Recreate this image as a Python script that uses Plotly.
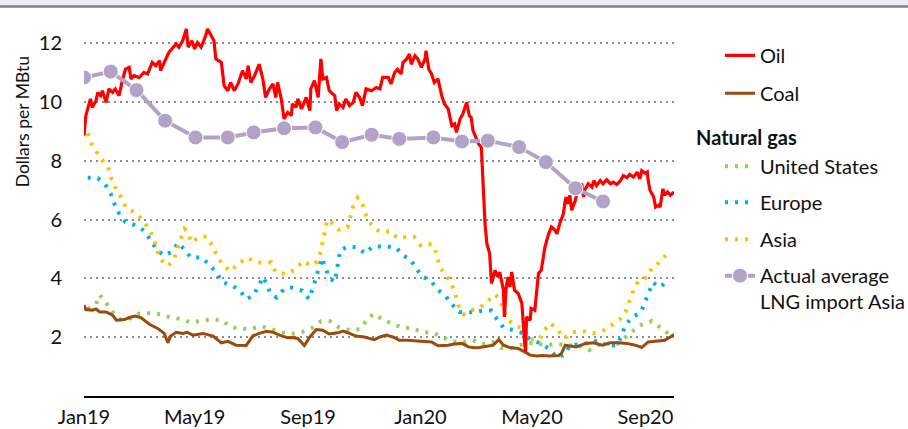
import pandas as pd
import plotly.graph_objects as go

START = pd.Timestamp("2019-01-01")

# days counted from 1 Jan 2019, values in dollars per MBtu
oil_days = [0, 1, 2, 5, 7, 9, 13, 15, 18, 20, 24, 27, 31, 34, 38, 42, 45, 49, 51, 54,
            60, 65, 69, 74, 78, 82, 83, 87, 92, 100, 103, 107, 111, 113, 117, 120, 123, 127,
            132, 134, 138, 141, 143, 149, 152, 156, 159, 163, 167, 172, 176, 178, 181, 185,
            190, 194, 197, 201, 205, 208, 210, 214, 217, 221, 225, 226, 230, 232, 236, 241,
            245, 246, 250, 254, 257, 259, 263, 266, 272, 274, 277, 281, 284, 288, 292, 295,
            299, 302, 306, 312, 317, 321, 324, 330, 333, 337, 340, 344, 346, 350, 353, 355,
            359, 362, 366, 370, 371, 374, 377, 380, 384, 388, 391, 395, 399, 402, 404, 408,
            411, 415, 418, 420, 422, 426, 428, 431, 433, 435, 437, 440, 442, 446, 449, 451,
            455, 456, 458, 460, 462, 464, 467, 471, 475, 476, 478, 479, 480, 484, 485, 489,
            491, 493, 496, 500, 504, 507, 511, 513, 516, 520, 522, 523, 525, 527, 529, 533,
            536, 540, 542, 543, 547, 551, 553, 556, 560, 563, 567, 571, 574, 578, 582, 585,
            589, 592, 596, 600, 603, 605, 609, 611, 612, 614, 618, 620, 623, 625, 628, 630,
            633, 636, 640]
oil_vals = [8.86, 9.2, 9.54, 9.88, 10.11, 9.82, 10.05, 10.33, 10.22, 10.39, 9.99, 10.45,
            10.33, 10.45, 10.22, 10.79, 11.12, 11.18, 10.79, 10.9, 10.84, 11.01, 10.96,
            11.35, 11.24, 11.41, 11.07, 11.35, 11.69, 11.98, 11.87, 12.09, 12.49, 11.87,
            12.09, 11.81, 12.03, 11.87, 12.26, 12.49, 12.26, 12.09, 11.47, 11.35, 10.56,
            10.39, 10.67, 10.39, 10.62, 11.07, 10.79, 11.24, 10.67, 10.9, 11.29, 10.79,
            10.16, 10.45, 10.62, 10.16, 10.67, 10.11, 9.43, 9.65, 9.54, 9.94, 9.82, 10.11,
            9.77, 10.16, 9.71, 10.45, 10.73, 10.16, 11.47, 10.79, 10.84, 10.39, 10.22, 9.71,
            9.94, 9.82, 10.11, 9.88, 9.99, 10.33, 10.16, 9.88, 10.45, 10.39, 10.5, 10.45,
            10.84, 10.84, 10.62, 11.01, 11.12, 10.96, 11.35, 11.47, 11.64, 11.29, 11.58,
            11.47, 11.18, 11.47, 11.75, 11.12, 10.96, 10.67, 10.79, 10.22, 9.94, 9.77, 9.2,
            9.26, 8.97, 9.43, 9.6, 9.99, 9.54, 9.48, 9.03, 8.69, 8.58, 8.47, 7.0, 5.86, 5.19,
            4.85, 3.83, 4.28, 4.05, 4.22, 3.6, 2.69, 3.71, 4.05, 3.71, 4.22, 3.6, 3.49, 3.15,
            2.58, 1.79, 1.5, 2.69, 2.58, 2.98, 2.92, 3.6, 4.17, 4.28, 5.07, 5.52, 5.75, 5.64,
            5.52, 5.86, 6.2, 6.66, 6.77, 6.54, 6.83, 6.32, 6.66, 7.11, 7.22, 6.77, 7.0, 7.22,
            7.11, 7.33, 7.16, 7.33, 7.22, 7.36, 7.22, 7.28, 7.2, 7.33, 7.5, 7.43, 7.54, 7.45,
            7.62, 7.39, 7.67, 7.58, 7.62, 7.33, 7.0, 6.77, 6.43, 6.49, 6.43, 7.05, 6.83,
            6.94, 6.83, 6.94]

coal_days = [0, 2, 9, 13, 17, 24, 31, 35, 44, 49, 56, 62, 71, 80, 87, 91, 94, 100, 107,
             112, 118, 129, 140, 149, 156, 165, 176, 183, 190, 198, 205, 212, 221, 226, 232,
             239, 245, 252, 259, 266, 275, 281, 288, 295, 304, 315, 321, 328, 335, 342, 351,
             361, 368, 377, 384, 395, 402, 410, 417, 423, 429, 437, 444, 450, 455, 462, 471,
             478, 484, 491, 498, 505, 515, 518, 522, 527, 534, 544, 553, 562, 571, 580, 589,
             598, 605, 612, 621, 630, 636, 640]
coal_vals = [3.09, 2.94, 2.92, 2.96, 2.86, 2.86, 2.75, 2.58, 2.6, 2.67, 2.72, 2.66, 2.44,
             2.3, 2.13, 1.81, 2.04, 2.17, 2.13, 2.17, 2.07, 2.13, 2.04, 1.81, 1.86, 1.73, 1.72,
             2.04, 2.13, 2.2, 2.17, 2.07, 1.98, 1.99, 1.96, 1.72, 2.01, 2.26, 2.24, 2.11,
             2.15, 2.21, 2.13, 2.04, 2.01, 1.92, 2.01, 2.07, 2.01, 1.9, 1.9, 1.88, 1.88, 1.84,
             1.71, 1.73, 1.77, 1.79, 1.67, 1.64, 1.65, 1.7, 1.73, 1.92, 1.73, 1.65, 1.62, 1.5,
             1.39, 1.36, 1.38, 1.36, 1.38, 1.45, 1.73, 1.7, 1.67, 1.79, 1.81, 1.73, 1.81,
             1.81, 1.79, 1.73, 1.65, 1.84, 1.87, 1.9, 2.01, 2.09]

us_days = [4, 13, 17, 24, 30, 39, 50, 60, 71, 83, 94, 105, 116, 127, 138, 150, 159, 170,
           182, 192, 203, 214, 225, 237, 247, 257, 267, 277, 287, 299, 306, 314, 324, 334,
           345, 356, 367, 378, 388, 399, 411, 422, 432, 443, 452, 463, 473, 484, 494, 504,
           514, 524, 537, 548, 557, 567, 578, 587, 596, 605, 616, 625, 634]
us_vals = [2.96, 3.12, 3.44, 3.18, 2.89, 2.61, 2.64, 2.81, 2.82, 2.78, 2.67, 2.62, 2.5,
           2.57, 2.61, 2.57, 2.35, 2.29, 2.29, 2.38, 2.28, 2.17, 2.11, 2.18, 2.31, 2.54,
           2.54, 2.33, 2.25, 2.27, 2.55, 2.8, 2.6, 2.47, 2.33, 2.31, 2.17, 2.16, 2.0, 1.86,
           1.82, 1.9, 1.76, 1.83, 1.64, 1.62, 1.73, 1.8, 1.76, 1.74, 1.77, 1.72, 1.71, 1.56,
           1.73, 1.79, 1.76, 2.01, 2.23, 2.43, 2.55, 2.33, 2.12]

europe_days = [4, 15, 23, 29, 33, 38, 45, 56, 65, 71, 78, 86, 95, 102, 109, 116, 128, 136,
               144, 150, 160, 169, 176, 183, 189, 194, 198, 202, 209, 217, 226, 237, 244,
               248, 251, 254, 258, 262, 266, 272, 274, 276, 278, 286, 296, 305, 312, 318,
               328, 339, 346, 354, 360, 366, 376, 383, 392, 399, 407, 418, 429, 442, 448,
               455, 466, 476, 485, 496, 505, 513, 522, 527, 538, 549, 558, 567, 578, 583,
               587, 594, 604, 608, 613, 617, 625, 634]
europe_vals = [7.43, 7.41, 7.2, 6.88, 6.54, 6.21, 5.92, 5.81, 5.63, 5.33, 5.03, 4.78, 4.9,
               5.21, 4.99, 4.71, 4.71, 4.46, 4.19, 3.87, 3.78, 3.59, 3.3, 3.4, 3.71, 4.05,
               3.83, 3.5, 3.35, 3.64, 3.69, 3.58, 3.3, 3.64, 3.97, 4.34, 4.7, 4.36, 4.03,
               3.88, 4.25, 4.59, 4.96, 5.08, 5.07, 4.85, 5.06, 5.09, 5.09, 5.04, 4.78, 4.65,
               4.38, 4.08, 3.93, 3.64, 3.41, 3.12, 2.86, 2.85, 2.89, 2.91, 2.61, 2.33, 2.24,
               2.14, 1.9, 1.79, 1.59, 1.31, 1.42, 1.73, 1.76, 1.81, 1.9, 1.7, 1.73, 2.04,
               2.39, 2.67, 2.84, 3.18, 3.52, 3.86, 3.7, 3.95]

asia_days = [4, 8, 14, 21, 27, 30, 35, 41, 46, 56, 64, 71, 76, 79, 83, 91, 98, 101, 105,
             109, 113, 116, 126, 133, 139, 144, 150, 159, 167, 177, 186, 196, 203, 208, 219,
             230, 237, 247, 253, 257, 259, 262, 264, 268, 276, 286, 289, 292, 297, 302, 305,
             310, 317, 324, 332, 340, 351, 358, 365, 374, 380, 383, 386, 393, 399, 403, 406,
             412, 419, 429, 438, 446, 452, 455, 460, 468, 478, 483, 494, 499, 506, 514, 521,
             530, 541, 552, 563, 572, 581, 588, 592, 596, 601, 611, 616, 624, 631]
asia_vals = [8.94, 8.6, 8.29, 8.0, 7.71, 7.36, 7.03, 6.72, 6.39, 6.24, 5.97, 5.66, 5.34,
             4.98, 4.65, 4.42, 4.66, 5.01, 5.35, 5.69, 5.58, 5.23, 5.41, 5.43, 5.12, 4.79,
             4.48, 4.24, 4.49, 4.71, 4.56, 4.52, 4.55, 4.21, 4.15, 4.31, 4.59, 4.44, 4.58,
             4.92, 5.27, 5.64, 6.0, 5.91, 5.66, 5.74, 6.09, 6.45, 6.75, 6.56, 6.21, 5.91,
             5.66, 5.57, 5.61, 5.37, 5.42, 5.42, 5.13, 5.18, 5.1, 4.73, 4.38, 4.11, 3.78,
             3.44, 3.09, 2.78, 2.91, 2.99, 3.23, 3.46, 3.25, 2.91, 2.58, 2.41, 2.24, 1.92,
             1.92, 2.23, 2.48, 2.23, 1.96, 2.17, 2.21, 2.13, 2.22, 2.43, 2.6, 2.91, 3.24,
             3.59, 3.9, 4.04, 4.36, 4.54, 4.79]

lng_days = [0, 29, 57, 88, 121, 156, 184, 217, 251, 280, 312, 342, 379, 410, 438, 472,
            501, 533, 563]
lng_vals = [10.84, 11.04, 10.41, 9.37, 8.8, 8.8, 8.97, 9.11, 9.14, 8.64, 8.89, 8.75, 8.8,
            8.66, 8.69, 8.47, 7.96, 7.07, 6.62]

tick_dates = ["2019-01-01", "2019-05-01", "2019-09-01", "2020-01-01", "2020-05-01", "2020-09-01"]
tick_text = ["Jan19", "May19", "Sep19", "Jan20", "May20", "Sep20"]


def to_dates(days):
    return START + pd.to_timedelta(days, unit="D")


FONT = "Lato"
TXT = "#111111"
fig = go.Figure()

gas_dash = "3px,7px"
fig.add_trace(go.Scatter(x=to_dates(us_days), y=us_vals, mode="lines", name="United States",
                         line=dict(color="#92d050", width=4, dash=gas_dash), legend="legend3"))
fig.add_trace(go.Scatter(x=to_dates(europe_days), y=europe_vals, mode="lines", name="Europe",
                         line=dict(color="#00b0f0", width=4, dash=gas_dash), legend="legend4"))
fig.add_trace(go.Scatter(x=to_dates(asia_days), y=asia_vals, mode="lines", name="Asia",
                         line=dict(color="#ffc000", width=4, dash=gas_dash), legend="legend5"))
fig.add_trace(go.Scatter(x=to_dates(coal_days), y=coal_vals, mode="lines", name="Coal",
                         line=dict(color="#9c4a0c", width=3), legend="legend2"))
fig.add_trace(go.Scatter(x=to_dates(oil_days), y=oil_vals, mode="lines", name="Oil",
                         line=dict(color="#ff0000", width=3.2), legend="legend"))
fig.add_trace(go.Scatter(x=to_dates(lng_days), y=lng_vals, mode="lines+markers",
                         name="Actual average<br>LNG import Asia",
                         line=dict(color="#b3a2c7", width=4),
                         marker=dict(size=15, color="#b3a2c7", line=dict(color="white", width=1)),
                         legend="legend6"))


def px_x(p):
    return (p - 84) / 590


def px_y(p):
    return (396 - p) / 382.4


def leg(y, anchor="middle"):
    return dict(x=px_x(720), y=px_y(y), xanchor="left", yanchor=anchor,
                bgcolor="rgba(0,0,0,0)", font=dict(family=FONT, size=20, color=TXT),
                valign="top", itemclick=False, visible=True)


fig.update_layout(
    width=908, height=429,
    margin=dict(l=84, r=234, t=14, b=33, autoexpand=False),
    plot_bgcolor="white", paper_bgcolor="white",
    showlegend=True,
    font=dict(family=FONT, size=20, color=TXT),
    legend=leg(55), legend2=leg(93), legend3=leg(166), legend4=leg(202),
    legend5=leg(239), legend6=leg(256, "top"),
    xaxis=dict(range=["2019-01-01", "2020-10-02"], tickvals=tick_dates, ticktext=tick_text,
               showgrid=False, showline=True, linecolor="#000000", linewidth=1.5,
               ticks="", ticklabelstandoff=2, zeroline=False, automargin=False),
    yaxis=dict(range=[0, 13], tickvals=[2, 4, 6, 8, 10, 12], showgrid=True,
               gridcolor="#8c8c8c", gridwidth=2, griddash="2px,4px", zeroline=False,
               showline=False, ticks="", ticklabelstandoff=21, automargin=False),
    annotations=[
        dict(text="Dollars per MBtu", textangle=-90, xref="paper", yref="paper",
             x=px_x(22), y=px_y(122), xanchor="center", yanchor="middle", showarrow=False,
             font=dict(family=FONT, size=17.5, color=TXT)),
        dict(text="<b>Natural gas</b>", xref="paper", yref="paper", x=px_x(694), y=px_y(137),
             xanchor="left", yanchor="middle", showarrow=False,
             font=dict(family=FONT, size=20, color=TXT)),
    ],
    shapes=[
        dict(type="rect", xref="paper", yref="paper", x0=-0.2, x1=1.5, y0=px_y(6), y1=px_y(-4),
             fillcolor="#e9edf2", line=dict(width=0), layer="above"),
        dict(type="line", xref="paper", yref="paper", x0=-0.2, x1=1.5, y0=px_y(6), y1=px_y(6),
             line=dict(color="#808080", width=2.5), layer="above"),
    ],
)

# the page adds a default 8px body margin; drop it so the figure sits at the corner
fig.write_html("out.html", config={"displayModeBar": False},
               post_script="document.body.style.margin = '0';")
